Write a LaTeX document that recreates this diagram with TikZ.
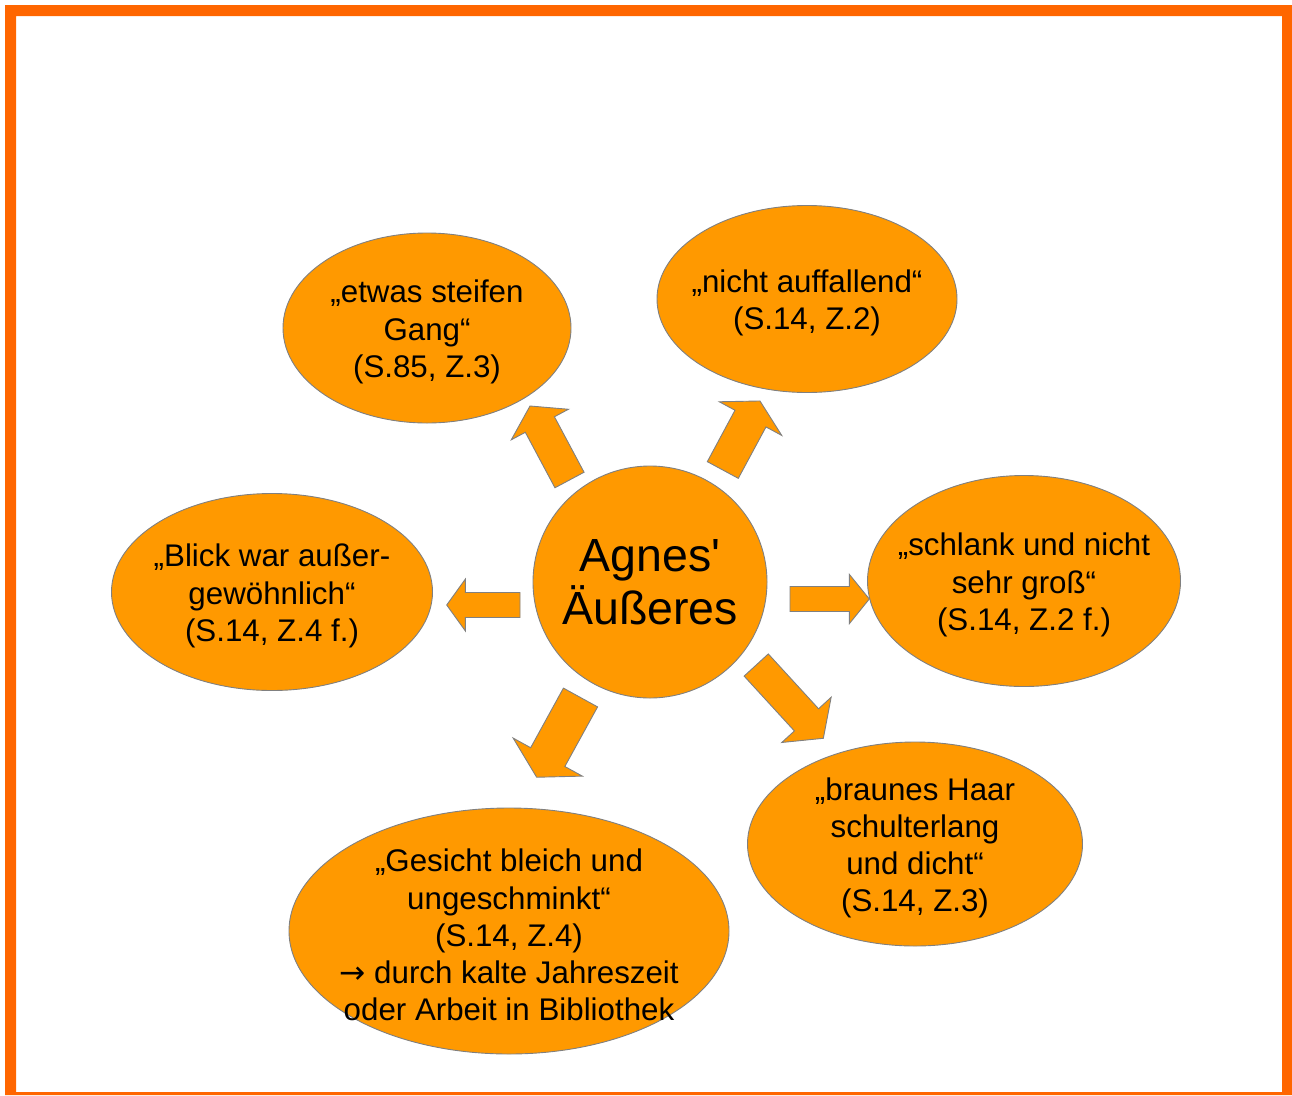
\documentclass[tikz,border=0pt]{standalone}
\usepackage{fontspec}
\setmainfont{Liberation Sans}[Ligatures=TeXOff]
\newfontfamily\arrowfont{DejaVu Sans}
\usetikzlibrary{shapes.geometric}
\definecolor{bubblefill}{HTML}{FF9900}
\definecolor{framecol}{HTML}{FF6600}
\definecolor{edgegray}{HTML}{808080}
\tikzset{
  bubble/.style={ellipse, fill=bubblefill, draw=edgegray, line width=0.9pt, inner sep=0pt},
  bubbletext/.style={align=center, font=\fontsize{31.3}{37.2}\selectfont, inner sep=0pt, yshift=-4pt},
  centertext/.style={align=center, font=\fontsize{46.5}{53}\selectfont, inner sep=0pt},
  blockarrowstyle/.style={fill=bubblefill, draw=edgegray, line width=0.9pt, line join=miter},
}
% #1 x, #2 y (tail centre), #3 angle, #4 length, #5 half shaft, #6 half head, #7 head length
\newcommand\blockarrow[7]{%
  \filldraw[blockarrowstyle, shift={(#1,#2)}, rotate=#3]
    (0,-#5) -- ({#4-#7},-#5) -- ({#4-#7},-#6) -- (#4,0) -- ({#4-#7},#6) -- ({#4-#7},#5) -- (0,#5) -- cycle;}
\begin{document}
\begin{tikzpicture}[x=1pt,y=-1pt]
\useasboundingbox (0,0) rectangle (1292,1095);
\fill[framecol, even odd rule] (5,5) rectangle (1292,1095) (16,16) rectangle (1282,1092);

% block arrows
\blockarrow{569.5}{480}{118.1}{83.9}{16.5}{32.4}{21}
\blockarrow{722.8}{470}{61.7}{78.4}{17.6}{35.5}{20}
\blockarrow{520}{605}{180}{73.3}{12.5}{26}{18.7}
\blockarrow{790}{599}{0}{79.3}{12.5}{24.7}{20}
\blockarrow{580.5}{697.5}{-118.8}{91}{19.5}{39.5}{23}
\blockarrow{756.2}{665}{-47.5}{99.4}{16.4}{33.5}{25}

% bubbles
\node[bubble, minimum width=234pt, minimum height=232pt] (c) at (650,582) {};
\node[bubble, minimum width=288pt, minimum height=190pt] (n1) at (427,328) {};
\node[bubble, minimum width=300pt, minimum height=187pt] (n2) at (807,299) {};
\node[bubble, minimum width=313pt, minimum height=211pt] (n3) at (1024,581) {};
\node[bubble, minimum width=335pt, minimum height=204pt] (n4) at (915,844) {};
\node[bubble, minimum width=440pt, minimum height=246pt] (n5) at (509,931) {};
\node[bubble, minimum width=321pt, minimum height=197pt] (n6) at (272,592) {};

% texts
\node[centertext] (tc) at (c) {Agnes'\\Äußeres};
\node[bubbletext] (t1) at (n1) {„etwas steifen\\Gang“\\(S.85, Z.3)};
\node[bubbletext] (t2) at (n2) {„nicht auffallend“\\(S.14, Z.2)};
\node[bubbletext] (t3) at (n3) {„schlank und nicht\\sehr groß“\\(S.14, Z.2 f.)};
\node[bubbletext] (t4) at (n4) {„braunes Haar\\schulterlang\\und dicht“\\(S.14, Z.3)};
\node[bubbletext] (t5) at (n5) {„Gesicht bleich und\\ungeschminkt“\\(S.14, Z.4)\\{\arrowfont →} durch kalte Jahreszeit\\oder Arbeit in Bibliothek};
\node[bubbletext] (t6) at (n6) {„Blick war außer-\\gewöhnlich“\\(S.14, Z.4 f.)};
\end{tikzpicture}
\end{document}
